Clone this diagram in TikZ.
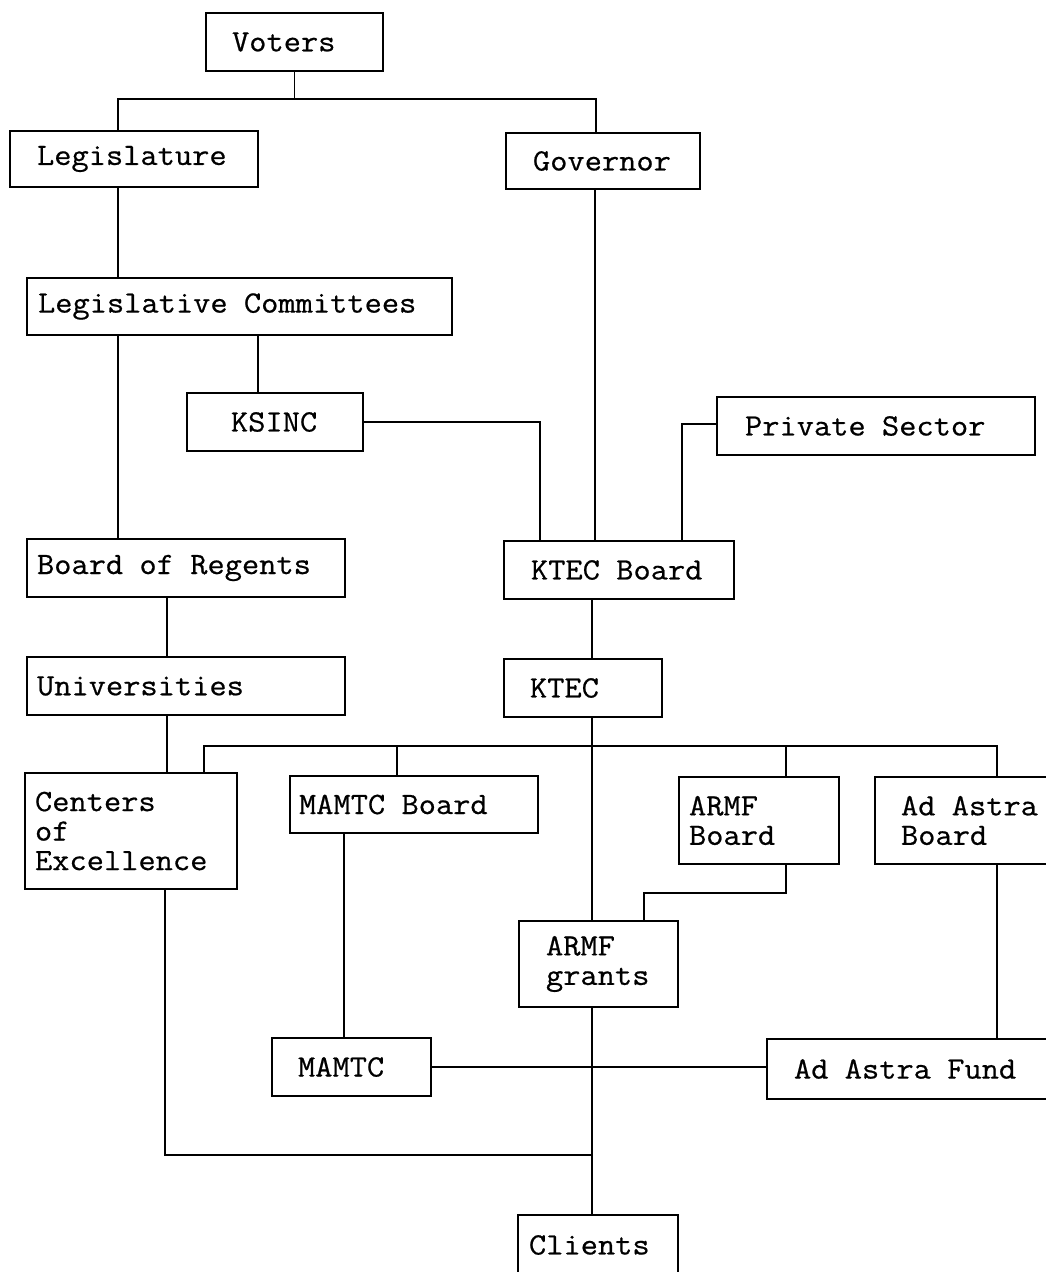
\documentclass[tikz,border=0pt]{standalone}
\usepackage{fontspec}
\newfontfamily\courfont{Latin Modern Mono}[FakeStretch=1.08, FakeBold=0.6]
\newcommand\boxfont{\courfont\fontsize{31}{29.5}\selectfont}
\newcommand\sk{\kern0.525em\relax}
\begin{document}
\begin{tikzpicture}[x=1pt,y=-1pt,
  box/.style={draw, line width=1.4pt, align=left, inner ysep=2pt, anchor=center,
    font=\boxfont},
  conn/.style={line width=1.4pt}]
\useasboundingbox (0,0) rectangle (1045,1272);
% boxes
\node[box, inner xsep=26pt, text width=125pt, minimum height=58pt] (voters) at (294.5,42) {Voters};
\node[box, inner xsep=27pt, text width=194pt, minimum height=56pt] (leg) at (134,159) {Legislature};
\node[box, inner xsep=27pt, text width=140pt, minimum height=56pt] (gov) at (603,161) {Governor};
\node[box, inner xsep=11pt, text width=403pt, minimum height=57pt] (lc) at (239.5,306.5) {Legislative\sk Committees};
\node[box, inner xsep=44pt, text width=88pt, minimum height=58pt] (ksinc) at (275,422) {KSINC};
\node[box, inner xsep=28pt, text width=262pt, minimum height=58pt] (priv) at (876,426) {Private\sk Sector};
\node[box, inner xsep=10pt, text width=298pt, minimum height=58pt] (bor) at (186,568) {Board\sk of\sk Regents};
\node[box, inner xsep=27pt, text width=176pt, minimum height=58pt] (ktecb) at (619,570) {KTEC\sk Board};
\node[box, inner xsep=10pt, text width=298pt, minimum height=58pt] (univ) at (186,686) {Universities};
\node[box, inner xsep=26pt, text width=106pt, minimum height=58pt] (ktec) at (583,688) {KTEC};
\node[box, inner xsep=10pt, text width=192pt, minimum height=116pt] (coe) at (131,831) {Centers\\of\\Excellence};
\node[box, inner xsep=9pt, text width=230pt, minimum height=57pt] (mamtcb) at (414,804.5) {MAMTC\sk Board};
\node[box, inner xsep=10pt, text width=140pt, minimum height=87pt] (armfb) at (759,820.5) {ARMF\\Board};
\node[box, inner xsep=26pt, text width=140pt, minimum height=87pt] (adab) at (971,820.5) {Ad\sk Astra\\Board};
\node[box, inner xsep=27pt, text width=105pt, minimum height=86pt] (armfg) at (598.5,964) {ARMF\\grants};
\node[box, inner xsep=26pt, text width=107pt, minimum height=58pt] (mamtc) at (351.5,1067) {MAMTC};
\node[box, inner xsep=27pt, text width=244pt, minimum height=60pt] (adaf) at (916,1069) {Ad\sk Astra\sk Fund};
\node[box, inner xsep=11pt, text width=138pt, minimum height=60pt] (clients) at (598,1245) {Clients};
% column / row coordinates
\coordinate (x118) at (118,0);
\coordinate (x167) at (167,0);
\coordinate (x258) at (258,0);
\coordinate (x344) at (344,0);
\coordinate (x397) at (397,0);
\coordinate (x540) at (540,0);
\coordinate (x592) at (592,0);
\coordinate (x595) at (595,0);
\coordinate (x682) at (682,0);
\coordinate (x786) at (786,0);
\coordinate (x997) at (997,0);
\coordinate (x204) at (204,0);
\coordinate (vj) at (294.5,99);
\coordinate (vl) at (118,99);
\coordinate (vg) at (596,99);
\coordinate (bus) at (0,746);
\coordinate (ab) at (644,893);
\coordinate (cj) at (165,1155);
% connectors
\draw[conn] (voters.south) -- (vj);
\draw[conn] (vl |- leg.north) -- (vl) -- (vg) -- (vg |- gov.north);
\draw[conn] (x118 |- leg.south) -- (x118 |- lc.north);
\draw[conn] (x118 |- lc.south) -- (x118 |- bor.north);
\draw[conn] (x258 |- lc.south) -- (x258 |- ksinc.north);
\draw[conn] (ksinc.east) -| (x540 |- ktecb.north);
\draw[conn] (x595 |- gov.south) -- (x595 |- ktecb.north);
\draw[conn] (priv.west |- 0,424) -| (x682 |- ktecb.north);
\draw[conn] (x167 |- bor.south) -- (x167 |- univ.north);
\draw[conn] (x167 |- univ.south) -- (x167 |- coe.north);
\draw[conn] (x592 |- ktecb.south) -- (x592 |- ktec.north);
\draw[conn] (x592 |- ktec.south) -- (x592 |- armfg.north);
\draw[conn] (x204 |- coe.north) -- (x204 |- bus) -- (x997 |- bus) -- (x997 |- adab.north);
\draw[conn] (x397 |- bus) -- (x397 |- mamtcb.north);
\draw[conn] (x786 |- bus) -- (x786 |- armfb.north);
\draw[conn] (x786 |- armfb.south) |- (ab) -- (ab |- armfg.north);
\draw[conn] (x344 |- mamtcb.south) -- (x344 |- mamtc.north);
\draw[conn] (x997 |- adab.south) -- (x997 |- adaf.north);
\draw[conn] (mamtc.east) -- (mamtc.east -| adaf.west);
\draw[conn] (x592 |- armfg.south) -- (x592 |- clients.north);
\draw[conn] (cj |- coe.south) -- (cj) -- (x592 |- cj);
\end{tikzpicture}
\end{document}
